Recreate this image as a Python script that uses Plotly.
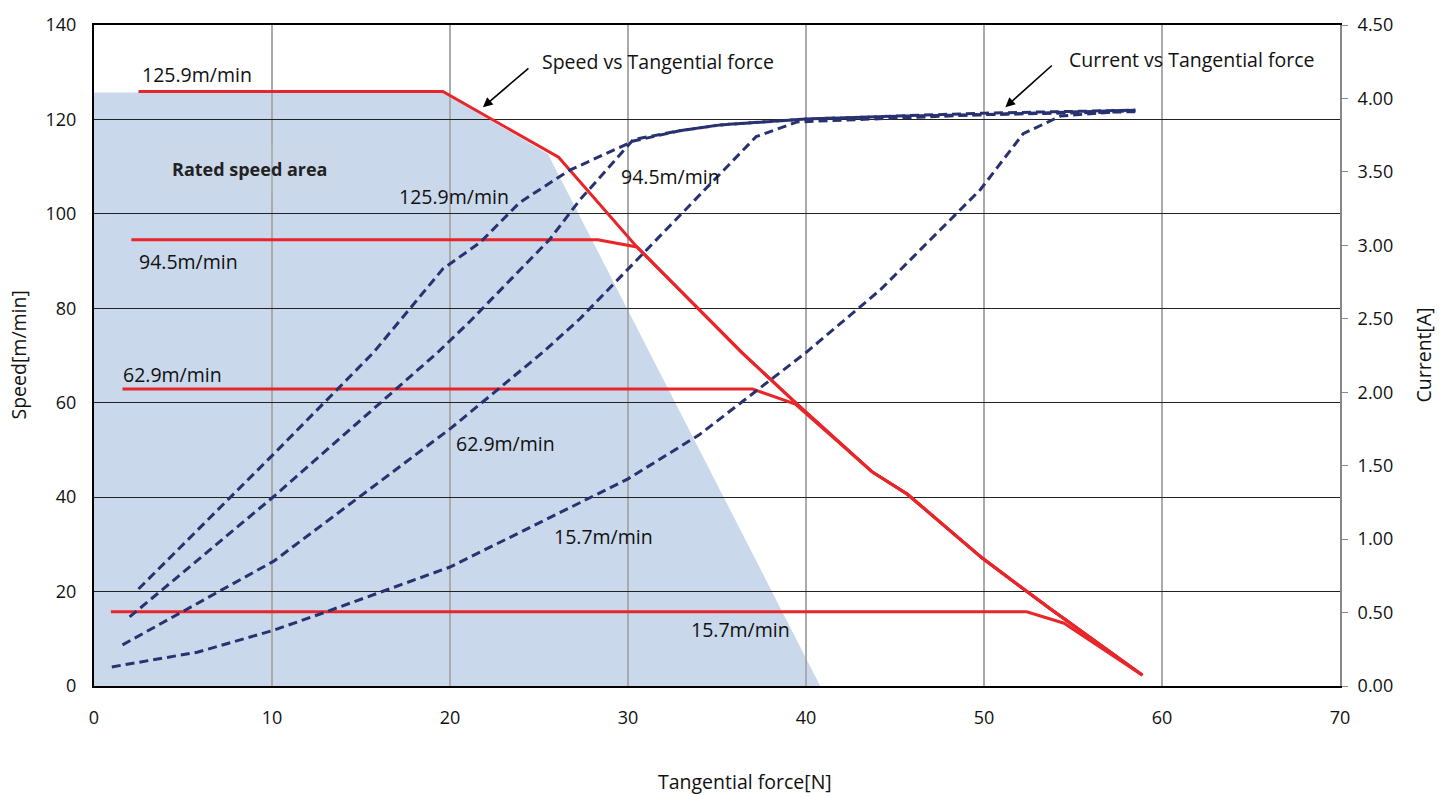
import plotly.graph_objects as go

# ---------------- data ----------------
# Speed vs tangential force (left axis, m/min)
force_spd_126 = [2.5, 19.6, 26.1, 30.5, 36.4, 39.5, 43.7, 45.7, 49.9, 53.7, 58.9]
speed_126 = [125.9, 125.9, 112.0, 93.0, 70.6, 59.7, 45.4, 40.6, 27.1, 16.4, 2.3]
force_spd_95 = [2.1, 28.3, 30.5, 36.4, 39.5, 43.7, 45.7, 49.9, 53.7, 58.9]
speed_95 = [94.5, 94.5, 93.0, 70.6, 59.7, 45.4, 40.6, 27.1, 16.4, 2.3]
force_spd_63 = [1.6, 37.0, 39.4, 43.7, 45.7, 49.9, 53.7, 58.9]
speed_63 = [62.9, 62.9, 59.7, 45.4, 40.6, 27.1, 16.4, 2.3]
force_spd_16 = [0.95, 52.4, 54.5, 58.9]
speed_16 = [15.7, 15.7, 13.3, 2.3]

# Current vs tangential force (right axis, A)
force_cur_126 = [2.5, 10.1, 15.7, 19.6, 21.7, 23.9, 26.7, 30.3, 32.9, 35.2, 40.0, 45.3, 50.0, 58.5]
cur_126 = [0.66, 1.58, 2.27, 2.84, 3.02, 3.29, 3.51, 3.71, 3.78, 3.82, 3.86, 3.88, 3.90, 3.92]
force_cur_95 = [2.0, 10.1, 19.3, 21.1, 25.6, 27.3, 30.3, 32.9, 35.2, 40.0, 45.3, 50.0, 58.5]
cur_95 = [0.47, 1.29, 2.27, 2.48, 3.04, 3.31, 3.72, 3.78, 3.82, 3.86, 3.88, 3.89, 3.92]
force_cur_63 = [1.6, 10.1, 20.0, 25.2, 27.3, 32.9, 37.2, 39.5, 45.3, 50.0, 58.5]
cur_63 = [0.28, 0.85, 1.75, 2.27, 2.50, 3.20, 3.74, 3.84, 3.87, 3.89, 3.91]
force_cur_16 = [1.0, 5.8, 10.1, 12.7, 20.0, 27.9, 30.0, 34.0, 40.0, 44.2, 49.8, 52.2, 54.3, 58.5]
cur_16 = [0.13, 0.23, 0.38, 0.49, 0.81, 1.28, 1.41, 1.71, 2.27, 2.70, 3.38, 3.76, 3.88, 3.92]

# Rated speed area outline (force, speed)
area_force = [0, 19.6, 25.5, 40.8, 0]
area_speed = [125.7, 125.7, 112.7, 0, 0]

# curve labels: (text, force, speed)
label_text = ["125.9m/min", "94.5m/min", "62.9m/min", "125.9m/min", "94.5m/min",
              "62.9m/min", "15.7m/min", "15.7m/min"]
label_force = [5.8, 5.3, 4.4, 20.2, 32.4, 23.1, 28.65, 36.3]
label_speed = [129.5, 90.0, 66.0, 103.6, 108.0, 51.3, 31.7, 12.0]

x_ticks = [0, 10, 20, 30, 40, 50, 60, 70]
y_ticks = [0, 20, 40, 60, 80, 100, 120, 140]
y2_ticks = [0, 0.5, 1.0, 1.5, 2.0, 2.5, 3.0, 3.5, 4.0, 4.5]

RED = "#E8262A"
NAVY = "#283270"
SHADE = "#C9D8EA"
FONT = "Open Sans"
TXT = 19.5

fig = go.Figure()

# shaded area as a shape below the gridlines
path = "M " + " L ".join(f"{fx},{sy}" for fx, sy in zip(area_force, area_speed)) + " Z"
shapes = [dict(type="path", path=path, xref="x", yref="y", layer="below",
               fillcolor=SHADE, line=dict(width=0))]

for fx, cy in [(force_cur_126, cur_126), (force_cur_95, cur_95),
               (force_cur_63, cur_63), (force_cur_16, cur_16)]:
    fig.add_trace(go.Scatter(x=fx, y=cy, yaxis="y2", mode="lines",
                             line=dict(color=NAVY, width=3, dash="9px,5px"),
                             showlegend=False))

for fx, sy in [(force_spd_126, speed_126), (force_spd_95, speed_95),
               (force_spd_63, speed_63), (force_spd_16, speed_16)]:
    fig.add_trace(go.Scatter(x=fx, y=sy, mode="lines",
                             line=dict(color=RED, width=3),
                             showlegend=False))

ann = []
for t, fx, sy in zip(label_text, label_force, label_speed):
    ann.append(dict(x=fx, y=sy, xref="x", yref="y", text=t, showarrow=False,
                    font=dict(family=FONT, size=TXT, color="#111")))

ann.append(dict(x=8.76, y=109.5, xref="x", yref="y", text="<b>Rated speed area</b>",
                showarrow=False, bgcolor="rgba(214,224,238,0.15)", borderpad=12,
                font=dict(family=FONT, size=18, color="#222")))

ann.append(dict(x=25.06, y=132.2, xref="x", yref="y", xanchor="left",
                text="Speed vs Tangential force", showarrow=False,
                font=dict(family=FONT, size=TXT, color="#111")))
ann.append(dict(x=21.85, y=122.6, xref="x", yref="y", text="", showarrow=True,
                ax=47, ay=-40, arrowhead=2, arrowsize=1.2, arrowwidth=1.6,
                arrowcolor="black"))
ann.append(dict(x=54.66, y=132.6, xref="x", yref="y", xanchor="left",
                text="Current vs Tangential force", showarrow=False,
                font=dict(family=FONT, size=TXT, color="#111")))
ann.append(dict(x=51.2, y=122.6, xref="x", yref="y", text="", showarrow=True,
                ax=48, ay=-43, arrowhead=2, arrowsize=1.2, arrowwidth=1.6,
                arrowcolor="black"))

# axis titles
ann.append(dict(x=0.5225, y=0, xref="paper", yref="paper", yanchor="middle",
                yshift=-95, text="Tangential force[N]", showarrow=False,
                font=dict(family=FONT, size=TXT, color="#111")))
ann.append(dict(x=0, y=0.5, xref="paper", yref="paper", xanchor="center",
                xshift=-76, textangle=-90, text="Speed[m/min]", showarrow=False,
                font=dict(family=FONT, size=TXT, color="#111")))
ann.append(dict(x=1, y=0.5, xref="paper", yref="paper", xanchor="center",
                xshift=83, textangle=-90, text="Current[A]", showarrow=False,
                font=dict(family=FONT, size=TXT, color="#111")))

fig.update_layout(
    width=1445, height=796,
    margin=dict(l=94, r=105, t=20, b=110),
    paper_bgcolor="white", plot_bgcolor="white",
    font=dict(family=FONT, size=18, color="#111"),
    xaxis=dict(range=[0, 70], tickvals=x_ticks, showgrid=True,
               gridcolor="#AAAAAA", gridwidth=1.5, zeroline=False,
               showline=True, linecolor="black", linewidth=2, mirror=True,
               ticks="", ticklabelstandoff=14),
    yaxis=dict(range=[0, 140], tickvals=y_ticks, showgrid=True,
               gridcolor="#222222", gridwidth=1.2, zeroline=False,
               showline=True, linecolor="black", linewidth=2,
               ticks="", ticklabelstandoff=12),
    yaxis2=dict(range=[0, 4.5], tickvals=y2_ticks, tickformat=".2f",
                overlaying="y", side="right", showgrid=False, zeroline=False,
                showline=True, linecolor="#888888", linewidth=2,
                ticks="outside", ticklen=6, tickcolor="#888888",
                ticklabelstandoff=6),
    annotations=ann,
    shapes=shapes,
)

fig.write_html("out.html", config={"displayModeBar": False},
               post_script="document.body.style.margin='0';")
